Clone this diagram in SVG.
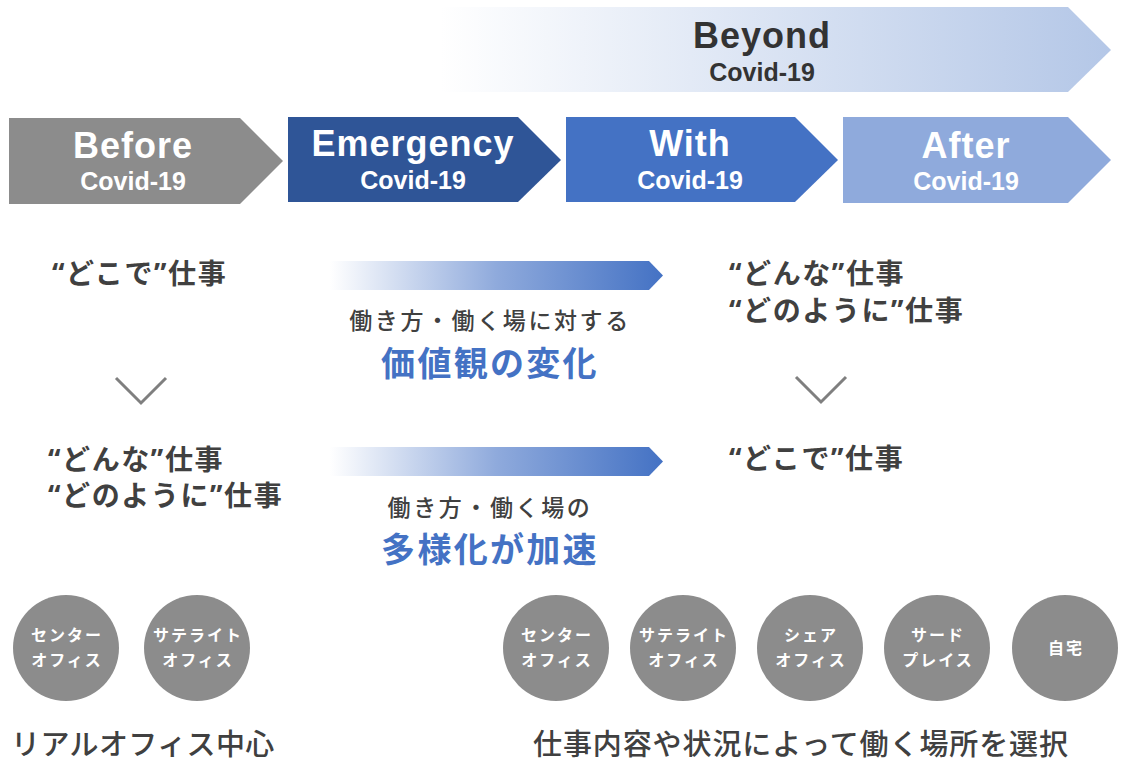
<svg xmlns="http://www.w3.org/2000/svg" width="1130" height="768" viewBox="0 0 1130 768">
<defs>
<linearGradient id="gBeyond" x1="440" y1="0" x2="1111" y2="0" gradientUnits="userSpaceOnUse">
<stop offset="0" stop-color="#ffffff"/>
<stop offset="1" stop-color="#b4c7e7"/>
</linearGradient>
<linearGradient id="gArrow" x1="330" y1="0" x2="663" y2="0" gradientUnits="userSpaceOnUse">
<stop offset="0" stop-color="#ffffff"/>
<stop offset="0.5" stop-color="#8faadc"/>
<stop offset="1" stop-color="#4472c4"/>
</linearGradient>
<style>
.lat{font-family:"Liberation Sans",Arial,sans-serif;font-weight:700;text-anchor:middle}
.big{font-size:36px;letter-spacing:1px}
.sub{font-size:25px}
.w{fill:#ffffff}
.d{fill:#333333}
.jp{font-family:"Noto Sans","Noto Sans CJK JP",sans-serif}
.head{font-size:28px;font-weight:700;fill:#404040;letter-spacing:1.6px}
.mid{font-size:23px;font-weight:500;fill:#404040;letter-spacing:2.6px;text-anchor:middle}
.blue{font-size:34px;font-weight:700;fill:#4472c4;letter-spacing:2.3px;text-anchor:middle}
.ctext{font-size:16px;font-weight:700;fill:#ffffff;letter-spacing:2px;text-anchor:middle}
.bottom{font-size:29px;font-weight:500;fill:#404040}
.circle{fill:#8c8c8c}
.vee{fill:none;stroke:#7f7f7f;stroke-width:3}
</style>
</defs>
<rect width="1130" height="768" fill="#ffffff"/>

<g id="beyond">
<polygon points="440,7 1068,7 1111,50 1068,92 440,92" fill="url(#gBeyond)"/>
<text class="lat big d" x="762" y="48">Beyond</text>
<text class="lat sub d" x="762" y="81">Covid-19</text>
</g>

<g id="before">
<polygon points="9,118 240,118 283,161 240,204 9,204" fill="#8c8c8c"/>
<text class="lat big w" x="133" y="158">Before</text>
<text class="lat sub w" x="133" y="190">Covid-19</text>
</g>
<g id="emergency">
<polygon points="288,117 518,117 561,160 518,202 288,202" fill="#2f5597"/>
<text class="lat big w" x="413" y="156">Emergency</text>
<text class="lat sub w" x="413" y="189">Covid-19</text>
</g>
<g id="with">
<polygon points="566,117 795,117 838,160 795,202 566,202" fill="#4472c4"/>
<text class="lat big w" x="690" y="156">With</text>
<text class="lat sub w" x="690" y="189">Covid-19</text>
</g>
<g id="after">
<polygon points="843,117 1068,117 1111,160 1068,203 843,203" fill="#8faadc"/>
<text class="lat big w" x="966" y="158">After</text>
<text class="lat sub w" x="966" y="190">Covid-19</text>
</g>

<g id="left-column">
<text class="jp head" x="52" y="284">“どこで”仕事</text>
<text class="jp head" x="48" y="470">“どんな”仕事</text>
<text class="jp head" x="48" y="506">“どのように”仕事</text>
</g>
<g id="right-column">
<text class="jp head" x="729" y="284">“どんな”仕事</text>
<text class="jp head" x="729" y="321">“どのように”仕事</text>
<text class="jp head" x="729" y="469">“どこで”仕事</text>
</g>

<g id="connectors">
<polyline class="vee" points="116,378 141,403 166,378"/>
<polyline class="vee" points="796,377 821,402 846,377"/>
<polygon points="330,261 649,261 663,275.5 649,290 330,290" fill="url(#gArrow)"/>
<polygon points="330,447 649,447 663,461.5 649,476 330,476" fill="url(#gArrow)"/>
</g>

<g id="change-label">
<text class="jp mid" x="490" y="329">働き方・働く場に対する</text>
<text class="jp blue" x="490" y="376">価値観の変化</text>
</g>
<g id="diversify-label">
<text class="jp mid" x="490" y="516">働き方・働く場の</text>
<text class="jp blue" x="490" y="562">多様化が加速</text>
</g>

<g id="c-center-left">
<circle class="circle" cx="66" cy="648" r="53"/>
<text class="jp ctext" x="67" y="641">センター</text>
<text class="jp ctext" x="67" y="666">オフィス</text>
</g>
<g id="c-satellite-left">
<circle class="circle" cx="197" cy="648" r="53"/>
<text class="jp ctext" x="198" y="641">サテライト</text>
<text class="jp ctext" x="198" y="666">オフィス</text>
</g>
<g id="c-center-right">
<circle class="circle" cx="556" cy="648" r="53"/>
<text class="jp ctext" x="557" y="641">センター</text>
<text class="jp ctext" x="557" y="666">オフィス</text>
</g>
<g id="c-satellite-right">
<circle class="circle" cx="683" cy="648" r="53"/>
<text class="jp ctext" x="684" y="641">サテライト</text>
<text class="jp ctext" x="684" y="666">オフィス</text>
</g>
<g id="c-share">
<circle class="circle" cx="810" cy="648" r="53"/>
<text class="jp ctext" x="811" y="641">シェア</text>
<text class="jp ctext" x="811" y="666">オフィス</text>
</g>
<g id="c-third">
<circle class="circle" cx="937" cy="648" r="53"/>
<text class="jp ctext" x="938" y="641">サード</text>
<text class="jp ctext" x="938" y="666">プレイス</text>
</g>
<g id="c-home">
<circle class="circle" cx="1065" cy="648" r="53"/>
<text class="jp ctext" x="1066" y="654">自宅</text>
</g>

<g id="bottom-labels">
<text class="jp bottom" x="11" y="755" letter-spacing="0.4">リアルオフィス中心</text>
<text class="jp bottom" x="533" y="755" letter-spacing="0.9">仕事内容や状況によって働く場所を選択</text>
</g>
</svg>
